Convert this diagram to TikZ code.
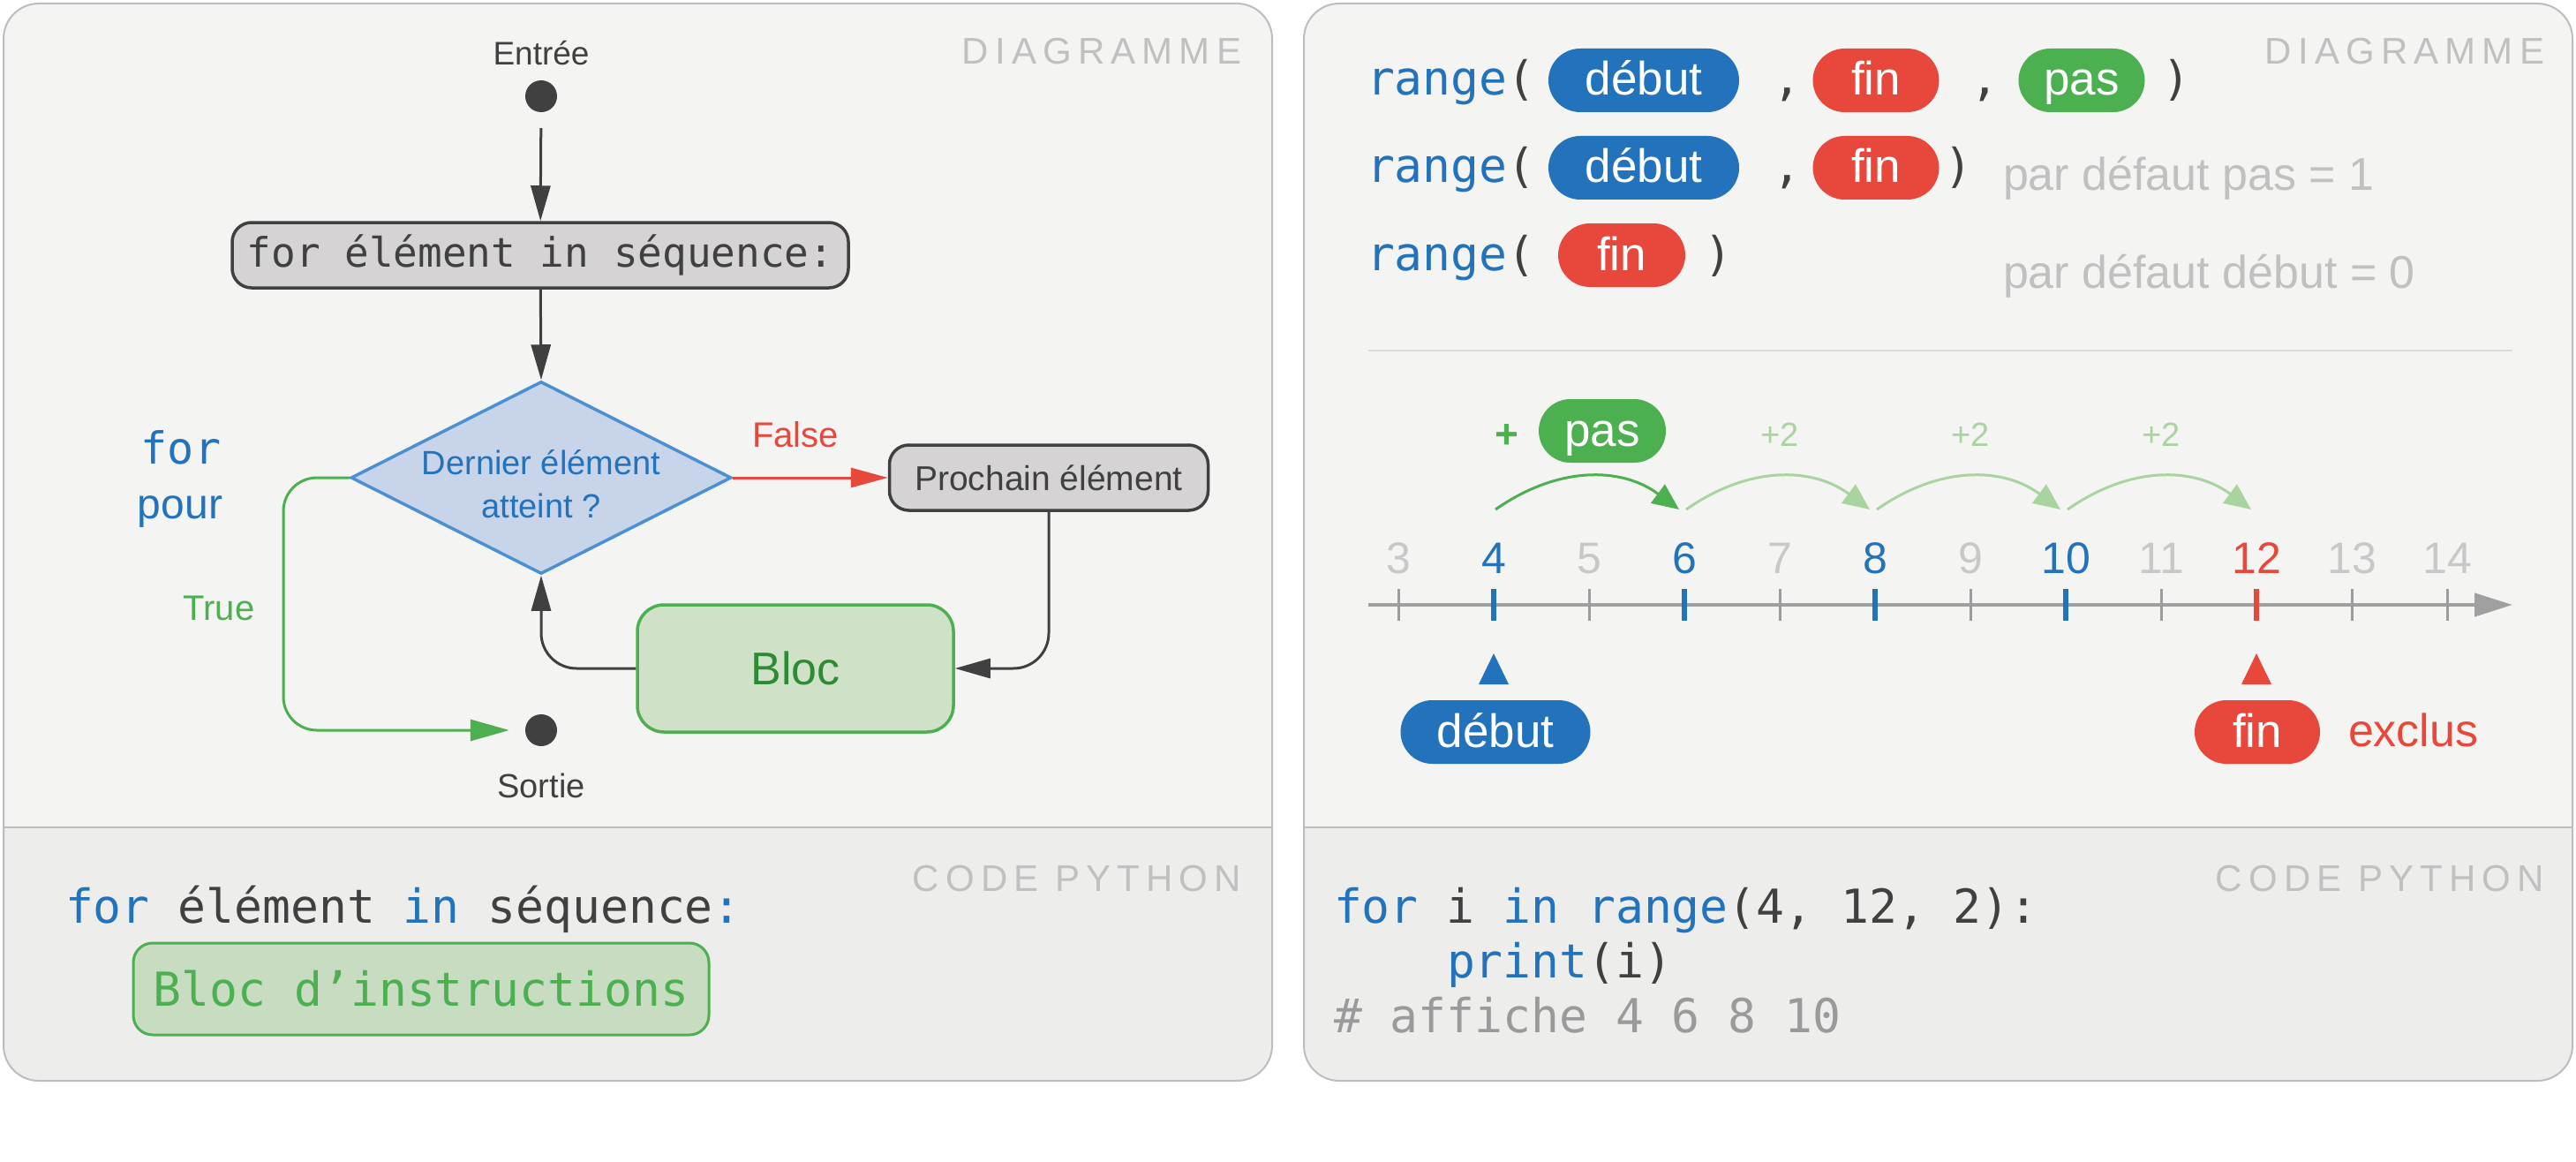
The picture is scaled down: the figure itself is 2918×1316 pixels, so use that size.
\documentclass[tikz,border=0pt]{standalone}
\usepackage{fontspec}
\setmainfont{Liberation Sans}
\setmonofont{DejaVu Sans Mono}
\newfontfamily\trackfont[LetterSpace=17]{Liberation Sans}
\usetikzlibrary{arrows.meta,shapes.geometric}
\newcommand\setfs[1]{\fontsize{#1}{#1}\selectfont}
\definecolor{panelbg}{HTML}{F4F4F2}
\definecolor{codebg}{HTML}{EDEDEB}
\definecolor{pborder}{HTML}{BDBDBD}
\definecolor{dark}{HTML}{404040}
\definecolor{cblue}{HTML}{2272BC}
\definecolor{dfill}{HTML}{C7D4EA}
\definecolor{dborder}{HTML}{4A90D2}
\definecolor{cred}{HTML}{E8473B}
\definecolor{cgreen}{HTML}{4CAF50}
\definecolor{bfill}{HTML}{CFE1C6}
\definecolor{bfilltwo}{HTML}{C8DCC2}
\definecolor{btext}{HTML}{2E8B35}
\definecolor{lgreen}{HTML}{A9D4A0}
\definecolor{lgray}{HTML}{C0C0C0}
\definecolor{numgray}{HTML}{C8C8C8}
\definecolor{axisgray}{HTML}{A0A0A0}
\definecolor{tickgray}{HTML}{9C9C9C}
\definecolor{boxgray}{HTML}{D5D3D3}
\definecolor{sepgray}{HTML}{DCDCDC}
\definecolor{cmtgray}{HTML}{9A9A9A}
\tikzset{
  txt/.style={inner sep=0pt, outer sep=0pt},
  tag/.style={txt, font=\trackfont\setfs{42}, text=lgray, anchor=base east},
  flow/.style={draw=dark, line width=3pt, -{Triangle[length=40pt,width=22pt]}},
  dot/.style={circle, fill=dark, minimum size=36pt, inner sep=0pt},
  graybox/.style={rectangle, rounded corners=22pt, draw=dark, line width=3.5pt, fill=boxgray, inner sep=0pt},
  pill/.style={rectangle, rounded corners=36pt, minimum height=72pt, inner sep=0pt, text=white, font=\setfs{53}, text height=37pt, text depth=3pt},
  mono/.style={txt, font=\ttfamily\setfs{53}},
  arcstyle/.style={line width=3pt, -{Triangle[length=30pt,width=26pt]}},
}
\begin{document}
\begin{tikzpicture}[x=1pt,y=-1pt]
\useasboundingbox (0,0) rectangle (2918,1316);
\fill[white] (0,0) rectangle (2918,1316);
% panels
\begin{scope}
\clip[rounded corners=40pt] (4,4) rectangle (1441,1224);
\fill[panelbg] (4,4) rectangle (1441,937);
\fill[codebg] (4,937) rectangle (1441,1224);
\end{scope}
\draw[pborder, line width=2pt, rounded corners=40pt] (4,4) rectangle (1441,1224);
\draw[pborder, line width=2.5pt] (4,937) -- (1441,937);
\begin{scope}
\clip[rounded corners=40pt] (1477,4) rectangle (2914,1224);
\fill[panelbg] (1477,4) rectangle (2914,937);
\fill[codebg] (1477,937) rectangle (2914,1224);
\end{scope}
\draw[pborder, line width=2pt, rounded corners=40pt] (1477,4) rectangle (2914,1224);
\draw[pborder, line width=2.5pt] (1477,937) -- (2914,937);

% ---------- left diagram ----------
\node[tag] (tagL) at (1406,73) {DIAGRAMME};
\node[txt, font=\setfs{37}, text=dark, anchor=base] (entree) at (613,74) {Entrée};
\node[dot] (din) at (613,109) {};
\node[graybox, minimum width=698pt, minimum height=74pt, font=\ttfamily\setfs{46}, text=dark] (forb) at (612,289) {for élément in séquence:};
\node[diamond, draw=dborder, line width=3.5pt, fill=dfill, minimum width=431pt, minimum height=218pt, inner sep=0pt] (dia) at (613,541) {};
\node[txt, align=center, font=\fontsize{38}{49}\selectfont, text=cblue] (diat) at (613,548) {Dernier élément\\atteint ?};
\node[graybox, minimum width=361pt, minimum height=74pt, font=\setfs{39}, text=dark] (proch) at (1188,541) {Prochain élément};
\node[rectangle, rounded corners=30pt, draw=cgreen, line width=3.5pt, fill=bfill, minimum width=358pt, minimum height=144pt, inner sep=0pt, font=\setfs{52}, text=btext] (bloc) at (901,757) {Bloc};
\node[dot] (dout) at (613,827) {};
\node[txt, font=\setfs{38}, text=dark, anchor=base] (sortie) at (613,903) {Sortie};
\node[txt, font=\setfs{40}, text=cred, anchor=base] (false) at (901,506) {False};
\node[txt, font=\setfs{40}, text=cgreen, anchor=base] (true) at (248,702) {True};
\node[txt, font=\ttfamily\setfs{50}, text=cblue, anchor=base] (forkw) at (205,525) {for};
\node[txt, font=\setfs{48}, text=cblue, anchor=base] (pour) at (204,587) {pour};

\draw[flow, shorten <=18pt] (din) -- (forb);
\draw[flow] (forb) -- (dia.north);
\draw[draw=cred, line width=3pt, -{Triangle[length=42pt,width=22pt]}] (dia.east) -- (proch.west);
\draw[flow, rounded corners=40pt] (proch.south) |- (bloc.east);
\draw[flow, rounded corners=40pt] (bloc.west) -| (dia.south);
\coordinate (tl) at (321,541);
\draw[draw=cgreen, line width=3pt, rounded corners=38pt, -{Triangle[length=44pt,width=24pt]}, shorten >=18pt] (dia.west) -- (tl) |- (dout);

% ---------- left code ----------
\node[tag] (codeL) at (1406,1009) {CODE PYTHON};
\node[mono, anchor=base west, text=dark] (c1) at (74,1045) {\textcolor{cblue}{for} élément \textcolor{cblue}{in} séquence\textcolor{cblue}{:}};
\node[rectangle, rounded corners=22pt, draw=cgreen, line width=3pt, fill=bfilltwo, minimum width=652pt, minimum height=104pt, inner sep=0pt, font=\ttfamily\setfs{53}, text=cgreen] (bloci) at (477,1120) {Bloc d’instructions};

% ---------- right diagram ----------
\node[tag] (tagR) at (2882,73) {DIAGRAMME};
% row 1
\node[mono, anchor=base west, text=cblue] (r1) at (1548,108) {range\textcolor{dark}{(}};
\node[pill, fill=cblue, minimum width=216pt] (p1a) at (1862,91) {début};
\node[mono, anchor=base, text=dark] (k1a) at (2024,108) {,};
\node[pill, fill=cred, minimum width=143pt] (p1b) at (2125,91) {fin};
\node[mono, anchor=base, text=dark] (k1b) at (2248,108) {,};
\node[pill, fill=cgreen, minimum width=143pt] (p1c) at (2358,91) {pas};
\node[mono, anchor=base, text=dark] (k1c) at (2465,108) {)};
% row 2
\node[mono, anchor=base west, text=cblue] (r2) at (1548,207) {range\textcolor{dark}{(}};
\node[pill, fill=cblue, minimum width=216pt] (p2a) at (1862,190) {début};
\node[mono, anchor=base, text=dark] (k2a) at (2024,207) {,};
\node[pill, fill=cred, minimum width=143pt] (p2b) at (2125,190) {fin};
\node[mono, anchor=base, text=dark] (k2b) at (2218,207) {)};
\node[txt, anchor=base west, font=\setfs{52}, text=lgray] (d2) at (2269,215) {par défaut pas = 1};
% row 3
\node[mono, anchor=base west, text=cblue] (r3) at (1548,306) {range\textcolor{dark}{(}};
\node[pill, fill=cred, minimum width=144pt] (p3a) at (1837,289) {fin};
\node[mono, anchor=base, text=dark] (k3a) at (1946,306) {)};
\node[txt, anchor=base west, font=\setfs{52}, text=lgray] (d3) at (2269,326) {par défaut début = 0};
\draw[sepgray, line width=2pt] (1550,397) -- (2846,397);

% number line
\coordinate (axs) at (1550,685);
\coordinate (axe) at (2846,685);
\draw[axisgray, line width=4.5pt, -{Triangle[length=43pt,width=26pt]}] (axs) -- (axe);
\foreach \n/\tc/\nc/\tw in {3/tickgray/numgray/3, 4/cblue/cblue/6.5, 5/tickgray/numgray/3, 6/cblue/cblue/6.5, 7/tickgray/numgray/3, 8/cblue/cblue/6.5, 9/tickgray/numgray/3, 10/cblue/cblue/6.5, 11/tickgray/numgray/3, 12/cred/cred/6.5, 13/tickgray/numgray/3, 14/tickgray/numgray/3} {
  \pgfmathsetmacro\xx{1584+(\n-3)*108}
  \draw[\tc, line width=\tw pt] (\xx,667) -- (\xx,703);
  \node[txt, anchor=base, font=\setfs{50}, text=\nc] (num\n) at (\xx,649) {\n};
}
% arcs
\foreach \a/\b/\c in {4/6/cgreen, 6/8/lgreen, 8/10/lgreen, 10/12/lgreen} {
  \pgfmathsetmacro\xa{1584+(\a-3)*108}
  \pgfmathsetmacro\xb{1584+(\b-3)*108}
  \coordinate (as\a) at (\xa+2,577);
  \coordinate (ae\a) at (\xb-6,577);
  \draw[arcstyle, draw=\c, fill=none] (as\a) .. controls (\xa+72,528) and (\xb-72,528) .. (ae\a);
}
\node[txt, font=\bfseries\setfs{46}, text=cgreen] (plus) at (1707,494) {+};
\node[pill, fill=cgreen, minimum width=144pt] (ppas) at (1815,488) {pas};
\node[txt, anchor=base, font=\setfs{38}, text=lgreen] (s1) at (2016,505) {+2};
\node[txt, anchor=base, font=\setfs{38}, text=lgreen] (s2) at (2232,505) {+2};
\node[txt, anchor=base, font=\setfs{38}, text=lgreen] (s3) at (2448,505) {+2};
% markers
\fill[cblue] (1692,740) -- (1709,775) -- (1675,775) -- cycle;
\fill[cred] (2556,740) -- (2573,775) -- (2539,775) -- cycle;
\node[pill, fill=cblue, minimum width=215pt] (pdeb) at (1694,829) {début};
\node[pill, fill=cred, minimum width=142pt] (pfin) at (2557,829) {fin};
\node[txt, anchor=base west, font=\setfs{52}, text=cred] (excl) at (2660,845) {exclus};

% ---------- right code ----------
\node[tag] (codeR) at (2882,1009) {CODE PYTHON};
\node[mono, anchor=base west, text=dark] (rc1) at (1511,1045) {\textcolor{cblue}{for} i \textcolor{cblue}{in} \textcolor{cblue}{range}(4, 12, 2):};
\node[mono, anchor=base west, text=dark] (rc2) at (1639,1107) {\textcolor{cblue}{print}(i)};
\node[mono, anchor=base west, text=cmtgray] (rc3) at (1511,1169) {\# affiche 4 6 8 10};
\end{tikzpicture}
\end{document}
